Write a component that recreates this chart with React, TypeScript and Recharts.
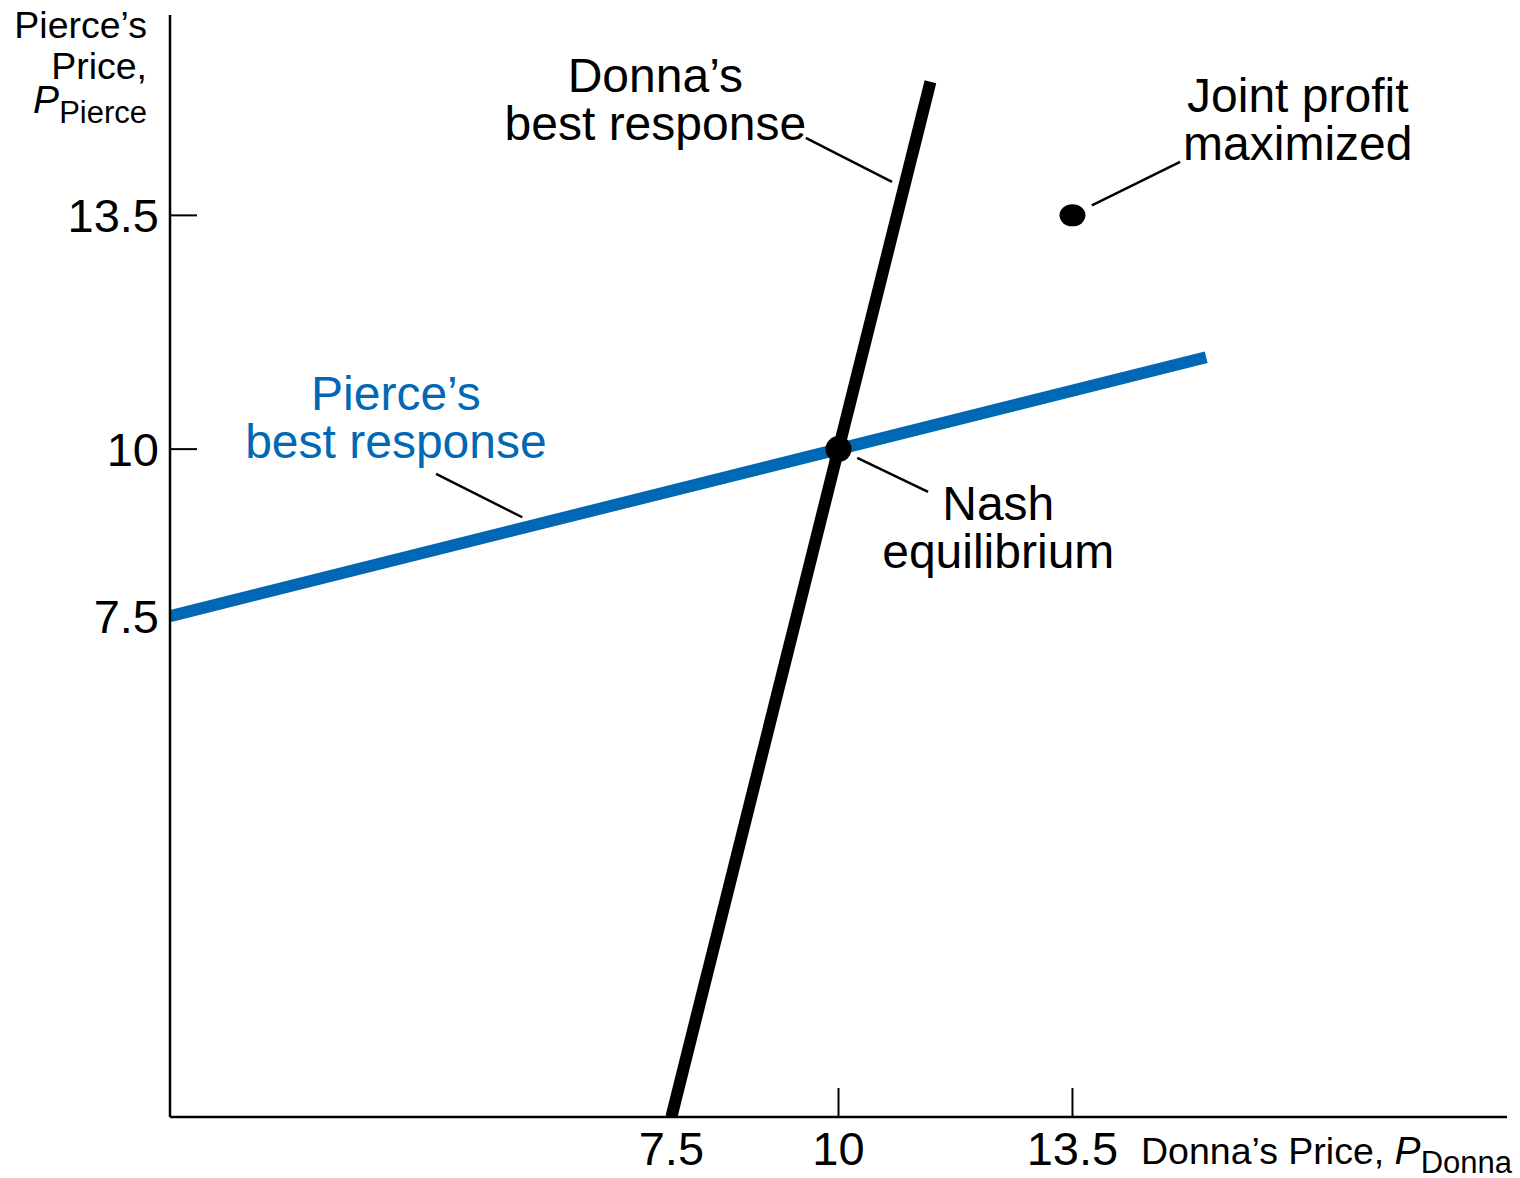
import { ComposedChart, Line, XAxis, YAxis, ReferenceDot, ReferenceLine, Label } from 'recharts'

// tick values on both price axes
const priceTicks = [7.5, 10, 13.5]
const markedTicks = [10, 13.5]

// best-response lines (P_Pierce = 7.5 + 0.25 P_Donna, and the mirror)
const pierceResponse = [
  { donna: 0, pierce: 7.5 },
  { donna: 15.5, pierce: 11.375 },
]
const donnaResponse = [
  { donna: 7.5, pierce: 0 },
  { donna: 11.375, pierce: 15.5 },
]

const nashPoint = { donna: 10, pierce: 10 }
const jointPoint = { donna: 13.5, pierce: 13.5 }

// annotation text, anchored in data units
const notes = [
  { donna: 7.26, pierce: 15.35, lines: ['Donna’s', 'best response'], color: '#000' },
  { donna: 16.87, pierce: 15.05, lines: ['Joint profit', 'maximized'], color: '#000' },
  { donna: 3.38, pierce: 10.585, lines: ['Pierce’s', 'best response'], color: '#0068b4' },
  { donna: 12.39, pierce: 8.94, lines: ['Nash', 'equilibrium'], color: '#000' },
]

// leader lines from labels to the marks
const leaders = [
  [{ x: 9.51, y: 14.66 }, { x: 10.8, y: 14.0 }],
  [{ x: 3.98, y: 9.63 }, { x: 5.27, y: 8.98 }],
  [{ x: 10.28, y: 9.87 }, { x: 11.34, y: 9.36 }],
  [{ x: 13.79, y: 13.65 }, { x: 15.11, y: 14.3 }],
]

const font = '"Liberation Sans", Arial, Helvetica, sans-serif'

function XTick({ x, y, payload }: any) {
  const v = payload.value
  return (
    <g>
      {markedTicks.includes(v) && <line x1={x} x2={x} y1={y - 29} y2={y} stroke="#000" strokeWidth={2} />}
      <text x={x} y={y + 48} textAnchor="middle" fontSize={47} fill="#000" fontFamily={font}>
        {v}
      </text>
    </g>
  )
}

function YTick({ x, y, payload }: any) {
  const v = payload.value
  return (
    <g>
      {markedTicks.includes(v) && <line x1={x} x2={x + 27} y1={y} y2={y} stroke="#000" strokeWidth={2} />}
      <text x={x - 11} y={y + 17} textAnchor="end" fontSize={47} fill="#000" fontFamily={font}>
        {v}
      </text>
    </g>
  )
}

function NoteText({ cx, cy, lines, color }: any) {
  return (
    <text x={cx} y={cy} textAnchor="middle" fontSize={48} fill={color} fontFamily={font}>
      {lines.map((l: string, i: number) => (
        <tspan key={i} x={cx} dy={i === 0 ? 0 : 48}>
          {l}
        </tspan>
      ))}
    </text>
  )
}

export default function App() {
  return (
    <div style={{ position: 'absolute', left: 0, top: 0, background: '#fff' }}>
      <ComposedChart width={1520} height={1178} margin={{ top: 15, right: 13, left: 169, bottom: 60 }}>
        <XAxis
          type="number"
          dataKey="donna"
          domain={[0, 20]}
          ticks={priceTicks}
          allowDataOverflow
          height={1}
          tickSize={0}
          tickMargin={0}
          tickLine={false}
          axisLine={{ stroke: '#000', strokeWidth: 2.5 }}
          tick={<XTick />}
        >
          <Label
            content={({ viewBox }: any) => (
              <text x={viewBox.x + 971} y={viewBox.y + 47} fontSize={37.5} fill="#000" fontFamily={font}>
                Donna’s Price, <tspan fontStyle="italic" fontSize={39}>P</tspan>
                <tspan dy={9} fontSize={31}>Donna</tspan>
              </text>
            )}
          />
        </XAxis>
        <YAxis
          type="number"
          dataKey="pierce"
          domain={[0, 16.5]}
          ticks={priceTicks}
          allowDataOverflow
          width={1}
          tickSize={0}
          tickMargin={0}
          tickLine={false}
          axisLine={{ stroke: '#000', strokeWidth: 2.5 }}
          tick={<YTick />}
        >
          <Label
            content={({ viewBox }: any) => (
              <text textAnchor="end" fontSize={37.5} fill="#000" fontFamily={font}>
                <tspan x={viewBox.x - 22} y={viewBox.y + 23}>Pierce’s</tspan>
                <tspan x={viewBox.x - 22} y={viewBox.y + 64}>Price,</tspan>
                <tspan x={viewBox.x - 22} y={viewBox.y + 98}>
                  <tspan fontStyle="italic" fontSize={39}>P</tspan>
                  <tspan dy={10} fontSize={31}>Pierce</tspan>
                </tspan>
              </text>
            )}
          />
        </YAxis>

        {leaders.map((seg, i) => (
          <ReferenceLine key={i} segment={seg} stroke="#000" strokeWidth={2.5} ifOverflow="visible" />
        ))}

        <Line
          data={pierceResponse}
          dataKey="pierce"
          stroke="#0068b4"
          strokeWidth={12}
          dot={false}
          activeDot={false}
          isAnimationActive={false}
        />
        <Line
          data={donnaResponse}
          dataKey="pierce"
          stroke="#000"
          strokeWidth={12}
          dot={false}
          activeDot={false}
          isAnimationActive={false}
        />

        <ReferenceDot x={nashPoint.donna} y={nashPoint.pierce} r={13} fill="#000" stroke="none" />
        <ReferenceDot
          x={jointPoint.donna}
          y={jointPoint.pierce}
          r={12}
          fill="#000"
          stroke="none"
          shape={(p: any) => <ellipse cx={p.cx} cy={p.cy} rx={13} ry={11} fill="#000" />}
        />

        {notes.map((n, i) => (
          <ReferenceDot
            key={'n' + i}
            x={n.donna}
            y={n.pierce}
            r={0}
            ifOverflow="visible"
            shape={(p: any) => <NoteText cx={p.cx} cy={p.cy} lines={n.lines} color={n.color} />}
          />
        ))}
      </ComposedChart>
    </div>
  )
}
